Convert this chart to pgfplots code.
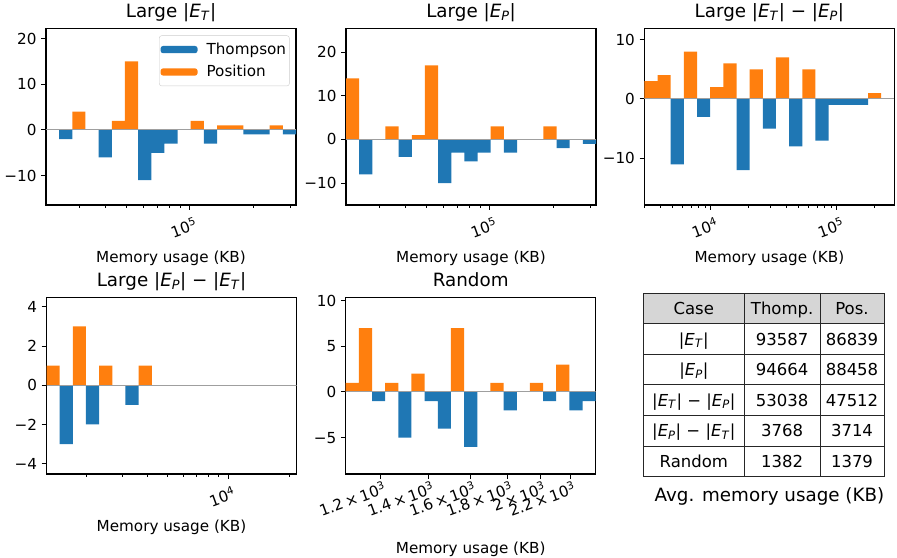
\documentclass[border=0pt]{standalone}
\usepackage{fontspec}
\setmainfont{DejaVu Sans}
\usepackage{pgfplots}
\pgfplotsset{compat=1.18}
\definecolor{tabblue}{HTML}{1F77B4}
\definecolor{taborange}{HTML}{FF7F0E}
\definecolor{hdr}{HTML}{D6D6D6}
\newcommand{\tickfont}{\fontsize{15.2}{18}\selectfont}
\newcommand{\titlefont}{\fontsize{18.3}{22}\selectfont}
\newcommand{\tabfont}{\fontsize{16.5}{20}\selectfont}
\newcommand{\ET}{|\textit{E}\textsubscript{\textit{T}}|}
\newcommand{\EP}{|\textit{E}\textsubscript{\textit{P}}|}
\newcommand{\sci}[1]{#1\kern0.2em×\kern0.2em10\textsuperscript{3}}

\pgfplotsset{
  panel/.style={
    scale only axis, width=250pt, height=176.7pt,
    axis line style={line width=1.3pt, black},
    tick align=outside, tick pos=left,
    major tick length=4.8pt, minor tick length=2.8pt,
    every major tick/.append style={line width=1pt, black},
    every minor tick/.append style={line width=0.8pt, black},
    ticklabel style={font=\tickfont},
    xticklabel style={rotate=20, anchor=north east, inner sep=1pt, xshift=2.8pt, yshift=-7pt},
    yticklabel style={inner sep=0pt, xshift=-4.5pt},
    xlabel={Memory usage (KB)},
    xlabel style={font=\tickfont, at={(axis description cs:0.5,-0.328)}, anchor=base},
    title style={font=\titlefont, at={(axis description cs:0.5,1)}, anchor=base, yshift=5pt},
  },
  tbar/.style={ybar, bar shift=0pt, bar width=#1, fill=tabblue, draw=none,
    legend image code/.code={\fill[tabblue] (0pt,-3.6pt) rectangle (37pt,3.6pt); \path (44pt,0pt);}},
  pbar/.style={ybar, bar shift=0pt, bar width=#1, fill=taborange, draw=none,
    legend image code/.code={\fill[taborange] (0pt,-3.6pt) rectangle (37pt,3.6pt); \path (44pt,0pt);}},
  zline/.style={gray!75, line width=1pt, forget plot},
}

\begin{document}
\begin{tikzpicture}

% ---------- Large |E_T| ----------
\begin{axis}[panel, at={(46pt,528.8pt)}, anchor=north west,
  xmin=4.318, xmax=5.505, ymin=-16.4, ymax=22.25,
  xtick={5}, xticklabels={10\textsuperscript{5}},
  minor xtick={4.4771,4.6021,4.6990,4.7782,4.8451,4.9031,4.9542,5.3010,5.4771},
  ytick={-10,0,10,20}, yticklabels={−10,0,10,20},
  title={Large \ET},
  legend style={at={(axis description cs:0.9744,0.959)}, anchor=north east,
    draw=black!20, rounded corners=2.5pt, font=\tickfont,
    inner xsep=1.3pt, inner ysep=3pt, row sep=0.5pt,
    nodes={inner sep=2pt, text height=13.6pt, text depth=4.3pt}},
  legend cell align=left]
\addplot[tbar=0.0624737] coordinates {
 (4.41171,-2) (4.59913,-6) (4.78656,-11) (4.84903,-5) (4.91150,-3)
 (5.09892,-3) (5.28634,-1) (5.34882,-1) (5.47376,-1)};
\addlegendentry{Thompson}
\addplot[pbar=0.0624737] coordinates {
 (4.47419,4) (4.66161,2) (4.72408,15) (5.03645,2) (5.16140,1) (5.22387,1) (5.41129,1)};
\addlegendentry{Position}
\addplot[zline] coordinates {(4.318,0) (5.505,0)};
\end{axis}

% ---------- Large |E_P| ----------
\begin{axis}[panel, at={(346pt,528.8pt)}, anchor=north west,
  xmin=4.318, xmax=5.505, ymin=-15.0, ymax=25.5,
  xtick={5}, xticklabels={10\textsuperscript{5}},
  minor xtick={4.4771,4.6021,4.6990,4.7782,4.8451,4.9031,4.9542,5.3010,5.4771},
  ytick={-10,0,10,20}, yticklabels={−10,0,10,20},
  title={Large \EP}]
\addplot[tbar=0.0624737] coordinates {
 (4.41171,-8) (4.59913,-4) (4.78656,-10) (4.84903,-3) (4.91150,-5)
 (4.97398,-3) (5.09892,-3) (5.34882,-2) (5.47376,-1)};
\addplot[pbar=0.0624737] coordinates {
 (4.34924,14) (4.53666,3) (4.66161,1) (4.72408,17) (5.03645,3) (5.28634,3)};
\addplot[zline] coordinates {(4.318,0) (5.505,0)};
\end{axis}

% ---------- Large |E_T| - |E_P| ----------
\begin{axis}[panel, at={(644.4pt,528.8pt)}, anchor=north west,
  xmin=3.4735, xmax=5.458, ymin=-17.85, ymax=11.93,
  xtick={4,5}, xticklabels={10\textsuperscript{4},10\textsuperscript{5}},
  minor xtick={3.4771,3.6021,3.6990,3.7782,3.8451,3.9031,3.9542,4.3010,4.4771,4.6021,4.6990,4.7782,4.8451,4.9031,4.9542,5.3010},
  ytick={-10,0,10}, yticklabels={−10,0,10},
  title={Large \ET\ − \EP}]
\addplot[tbar=0.104447] coordinates {
 (3.73462,-11) (3.94351,-3) (4.25685,-12) (4.46574,-5) (4.67464,-8)
 (4.88353,-7) (4.98798,-1) (5.09242,-1) (5.19687,-1)};
\addplot[pbar=0.104447] coordinates {
 (3.52572,3) (3.63017,4) (3.83906,8) (4.04796,2) (4.15240,6) (4.36130,5)
 (4.57019,7) (4.77908,5) (5.30132,1)};
\addplot[zline] coordinates {(3.4735,0) (5.458,0)};
\end{axis}

% ---------- Large |E_P| - |E_T| ----------
\begin{axis}[panel, at={(46.5pt,259.7pt)}, anchor=north west,
  xmin=3.104, xmax=4.3374, ymin=-4.53, ymax=4.49,
  xtick={4}, xticklabels={10\textsuperscript{4}},
  minor xtick={3.3010,3.4771,3.6021,3.6990,3.7782,3.8451,3.9031,3.9542,4.3010},
  ytick={-4,-2,0,2,4}, yticklabels={−4,−2,0,2,4},
  title={Large \EP\ − \ET}]
\addplot[tbar=0.064916] coordinates {(3.20137,-3) (3.33121,-2) (3.52595,-1)};
\addplot[pbar=0.064916] coordinates {(3.13646,1) (3.26629,3) (3.39612,1) (3.59087,1)};
\addplot[zline] coordinates {(3.104,0) (4.3374,0)};
\end{axis}

% ---------- Random ----------
\begin{axis}[panel, at={(345.7pt,259.7pt)}, anchor=north west,
  xmin=3.0312, xmax=3.378, ymin=-8.98, ymax=10.37,
  xtick={3.0792,3.1461,3.2041,3.2553,3.3010,3.3424},
  xticklabels={\sci{1.2},\sci{1.4},\sci{1.6},\sci{1.8},\sci{2},\sci{2.2}},
  xticklabel style={yshift=5.5pt},
  ytick={-5,0,5,10}, yticklabels={−5,0,5,10},
  xlabel style={at={(axis description cs:0.5,-0.45)}},
  title={Random}]
\addplot[tbar=0.018253] coordinates {
 (3.07683,-1) (3.11334,-5) (3.14985,-1) (3.16810,-4) (3.20460,-6)
 (3.25936,-2) (3.31412,-1) (3.35063,-2) (3.36888,-1)};
\addplot[pbar=0.018253] coordinates {
 (3.04033,1) (3.05858,7) (3.09509,1) (3.13159,2) (3.18635,7) (3.24111,1)
 (3.29587,1) (3.33237,3)};
\addplot[zline] coordinates {(3.0312,0) (3.378,0)};
\end{axis}

% ---------- Table ----------
\fill[hdr] (643.3pt,263.7pt) rectangle (884pt,233.1pt);
\begin{scope}[line width=1pt, black!85]
\foreach \yy in {263.7,233.1,202.6,172.0,141.4,110.9,80.3}
  \draw (643.3pt,\yy pt) -- (884pt,\yy pt);
\foreach \xx in {643.3,744.3,820,884}
  \draw (\xx pt,263.7pt) -- (\xx pt,80.3pt);
\end{scope}
\begin{scope}[every node/.style={font=\tabfont, anchor=base, inner sep=0pt}]
\node at (693.8pt,242.4pt) {Case};
\node at (782.15pt,242.4pt) {Thomp.};
\node at (852pt,242.4pt) {Pos.};
\node at (693.8pt,211.85pt) {\ET};
\node at (782.15pt,211.85pt) {93587};
\node at (852pt,211.85pt) {86839};
\node at (693.8pt,181.3pt) {\EP};
\node at (782.15pt,181.3pt) {94664};
\node at (852pt,181.3pt) {88458};
\node at (693.8pt,150.7pt) {\ET\ − \EP};
\node at (782.15pt,150.7pt) {53038};
\node at (852pt,150.7pt) {47512};
\node at (693.8pt,120.15pt) {\EP\ − \ET};
\node at (782.15pt,120.15pt) {3768};
\node at (852pt,120.15pt) {3714};
\node at (693.8pt,89.6pt) {Random};
\node at (782.15pt,89.6pt) {1382};
\node at (852pt,89.6pt) {1379};
\end{scope}
\node[font=\titlefont, anchor=base, inner sep=0pt] at (769.5pt,56pt) {Avg. memory usage (KB)};

\pgfresetboundingbox
\path[use as bounding box] (0pt,0pt) rectangle (897pt,557pt);
\end{tikzpicture}
\end{document}
